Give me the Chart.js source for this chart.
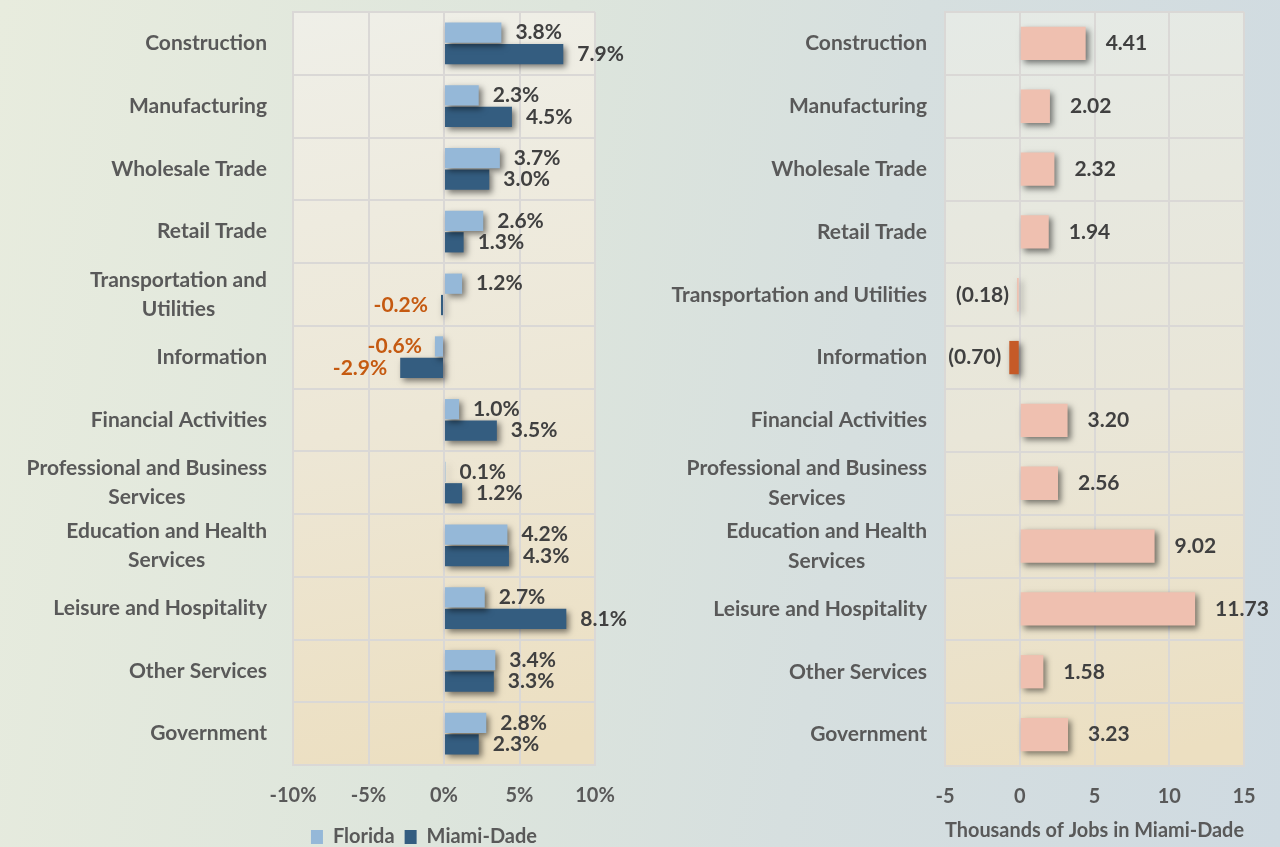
<!DOCTYPE html>
<html>
<head>
<meta charset="utf-8">
<script src="https://cdn.jsdelivr.net/npm/chart.js@4.4.0/dist/chart.umd.min.js"></script>
<style>
html, body { margin: 0; padding: 0; width: 1280px; height: 847px; overflow: hidden; }
body { background: linear-gradient(100deg, #e8ecde 0%, #dde5dc 40%, #d6dfdf 65%, #cfdae1 100%); position: relative; }
.box { position: absolute; top: 0; width: 640px; }
#leftBox { left: 0; height: 857px; }
#rightBox { left: 640px; height: 847px; }
</style>
</head>
<body>
<div class="box" id="leftBox"><canvas id="growthChart"></canvas></div>
<div class="box" id="rightBox"><canvas id="jobsChart"></canvas></div>
<script>
// Data
const categories = ['Construction', 'Manufacturing', 'Wholesale Trade', 'Retail Trade',
    ['Transportation and', 'Utilities'], 'Information', 'Financial Activities',
    ['Professional and Business', 'Services'], ['Education and Health', 'Services'],
    'Leisure and Hospitality', 'Other Services', 'Government'];
const jobCategories = ['Construction', 'Manufacturing', 'Wholesale Trade', 'Retail Trade',
    'Transportation and Utilities', 'Information', 'Financial Activities',
    ['Professional and Business', 'Services'], ['Education and Health', 'Services'],
    'Leisure and Hospitality', 'Other Services', 'Government'];
const floridaGrowth = [3.8, 2.3, 3.7, 2.6, 1.2, -0.6, 1.0, 0.1, 4.2, 2.7, 3.4, 2.8];
const miamiDadeGrowth = [7.9, 4.5, 3.0, 1.3, -0.2, -2.9, 3.5, 1.2, 4.3, 8.1, 3.3, 2.3];
const miamiDadeJobs = [4.41, 2.02, 2.32, 1.94, -0.18, -0.70, 3.20, 2.56, 9.02, 11.73, 1.58, 3.23];
const growthTicks = { min: -10, max: 10, step: 5 };
const jobsTicks = { min: -5, max: 15, step: 5 };

const FONT = 'Lato, "Open Sans", sans-serif';
Chart.defaults.font.family = FONT;
Chart.defaults.font.weight = 'bold';
Chart.defaults.color = '#595959';
Chart.defaults.animation = false;

const GRID = '#dad8d6';

// gradient fill behind the plot area
const plotBg = {
    id: 'plotBg',
    beforeDraw(chart, args, opts){
        const { ctx, chartArea: a } = chart;
        const g = ctx.createLinearGradient(a.left, a.top, a.left + a.width * 0.5, a.bottom);
        g.addColorStop(0, opts.top);
        g.addColorStop(0.55, opts.mid);
        g.addColorStop(1, opts.bottom);
        ctx.save();
        ctx.fillStyle = g;
        ctx.fillRect(a.left, a.top, a.width, a.height);
        ctx.restore();
    }
};

// drop shadow under the bars
const barShadow = {
    id: 'barShadow',
    beforeDatasetsDraw(chart){
        const c = chart.ctx;
        c.save();
        c.shadowColor = 'rgba(0,0,0,0.5)';
        c.shadowBlur = 6;
        c.shadowOffsetX = 3;
        c.shadowOffsetY = 3;
    },
    afterDatasetsDraw(chart){ chart.ctx.restore(); }
};

// category names: block right aligned, wrapped lines centred on each other
const catLabels = {
    id: 'catLabels',
    afterDraw(chart, args, opts){
        const ctx = chart.ctx, y = chart.scales.y;
        ctx.save();
        ctx.font = 'bold 21px ' + FONT;
        ctx.fillStyle = '#595959';
        ctx.textBaseline = 'middle';
        ctx.textAlign = 'center';
        chart.data.labels.forEach((lab, i) => {
            const lines = Array.isArray(lab) ? lab : [lab];
            const w = Math.max(...lines.map(l => ctx.measureText(l).width));
            const cx = chart.chartArea.left - opts.gap - w / 2;
            const cy = y.getPixelForTick(i);
            lines.forEach((l, k) => ctx.fillText(l, cx, cy + (k - (lines.length - 1) / 2) * opts.lineHeight));
        });
        ctx.restore();
    }
};

// value labels at the end of every bar
const valueLabels = {
    id: 'valueLabels',
    afterDraw(chart, args, opts){
        const ctx = chart.ctx;
        ctx.save();
        ctx.font = 'bold 21px ' + FONT;
        ctx.textBaseline = 'middle';
        chart.data.datasets.forEach((ds, di) => {
            chart.getDatasetMeta(di).data.forEach((bar, i) => {
                const v = ds.data[i];
                const neg = v < 0;
                ctx.fillStyle = neg ? opts.negColor : opts.color;
                ctx.textAlign = neg ? 'right' : 'left';
                ctx.fillText(opts.format(v), bar.x + (neg ? -opts.negOffset : opts.offset), bar.y);
            });
        });
        ctx.restore();
    }
};

function xScale(t, fmt, extra){
    return Object.assign({
        type: 'linear', min: t.min, max: t.max,
        ticks: { stepSize: t.step, padding: 19, color: '#595959', font: { size: 20, weight: 'bold' }, callback: fmt },
        grid: { color: GRID, lineWidth: 2, drawTicks: false },
        border: { color: GRID, width: 2 }
    }, extra);
}

function yScale(width){
    return {
        ticks: { display: false },
        grid: { color: GRID, lineWidth: 2, drawTicks: false, offset: true },
        border: { color: GRID, width: 2 },
        afterFit(scale){ scale.width = width; }
    };
}

// Left: employment growth, Florida vs Miami-Dade
new Chart(document.getElementById('growthChart'), {
    type: 'bar',
    data: {
        labels: categories,
        datasets: [
            { label: 'Florida', data: floridaGrowth, backgroundColor: '#95b8d8', barPercentage: 0.95, categoryPercentage: 0.68 },
            { label: 'Miami-Dade', data: miamiDadeGrowth, backgroundColor: '#345d80', barPercentage: 0.95, categoryPercentage: 0.68 }
        ]
    },
    options: {
        indexAxis: 'y',
        responsive: true,
        maintainAspectRatio: false,
        layout: { padding: { left: 253, right: 45, top: 12, bottom: 0 } },
        scales: {
            x: xScale(growthTicks, v => v + '%', { afterFit(s){ s.height = 52; } }),
            y: yScale(40)
        },
        plugins: {
            legend: {
                position: 'bottom',
                labels: { boxWidth: 12, boxHeight: 14, color: '#595959', font: { size: 20, weight: 'bold' }, padding: 10 }
            },
            tooltip: { enabled: false },
            plotBg: { top: '#efefe8', mid: '#ede7d6', bottom: '#ecdfc1' },
            catLabels: { gap: 26, lineHeight: 29 },
            valueLabels: { color: '#404040', negColor: '#c55a11', offset: 14, negOffset: 13, format: v => v.toFixed(1) + '%' }
        }
    },
    plugins: [plotBg, barShadow, catLabels, valueLabels]
});

// Right: thousands of jobs added in Miami-Dade
new Chart(document.getElementById('jobsChart'), {
    type: 'bar',
    data: {
        labels: jobCategories,
        datasets: [
            {
                label: 'Miami-Dade jobs',
                data: miamiDadeJobs,
                backgroundColor: miamiDadeJobs.map(v => v <= -0.5 ? '#c55a28' : '#efc0b0'),
                barPercentage: 1,
                categoryPercentage: 0.53
            }
        ]
    },
    options: {
        indexAxis: 'y',
        responsive: true,
        maintainAspectRatio: false,
        layout: { padding: { left: 0, right: 36, top: 12, bottom: 0 } },
        scales: {
            x: xScale(jobsTicks, v => v, {
                title: { display: true, text: 'Thousands of Jobs in Miami-Dade', color: '#595959', font: { size: 20, weight: 'bold' }, padding: { top: 2, bottom: 4 } },
                afterFit(s){ s.height = 81; }
            }),
            y: yScale(305)
        },
        plugins: {
            legend: { display: false },
            tooltip: { enabled: false },
            plotBg: { top: '#e5eae6', mid: '#e9e6d8', bottom: '#ecdfc1' },
            catLabels: { gap: 18, lineHeight: 30 },
            valueLabels: { color: '#404040', negColor: '#404040', offset: 20, negOffset: 8, format: v => v < 0 ? '(' + Math.abs(v).toFixed(2) + ')' : v.toFixed(2) }
        }
    },
    plugins: [plotBg, barShadow, catLabels, valueLabels]
});
</script>
</body>
</html>
